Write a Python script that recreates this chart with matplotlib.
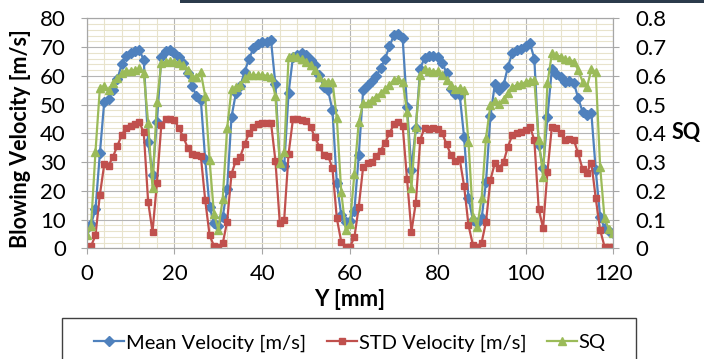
import matplotlib.pyplot as plt
from matplotlib.patches import Rectangle
from matplotlib.ticker import MultipleLocator

plt.rcParams['font.family'] = ['Lato', 'DejaVu Sans']

# position across the slot [mm], one reading per mm
y_mm = list(range(0, 121))

mean_vel = [7, 8.5, 13.5, 33, 51, 52, 55, 59, 64, 67,
            68, 68.5, 69, 65.5, 37, 25.5, 44, 66.5, 68.5, 69,
            68, 66.6, 64.5, 61, 56.5, 53, 51.7, 31, 14.5, 8.8,
            7.8, 11, 20.7, 45.7, 54, 56.5, 61.4, 66, 69.5, 71,
            71.6, 71.9, 72.3, 57, 29.5, 28.5, 54, 66.5, 67.2, 67.8,
            67.2, 65.5, 63.8, 60.3, 56.2, 55, 48, 22.6, 11.6, 9.3,
            9.5, 13, 32.5, 55, 56.8, 58.3, 60, 62.6, 66, 70.2,
            74.2, 74.5, 73, 49.2, 27.4, 42, 62.5, 66.3, 67, 67,
            66.5, 64.5, 61, 55.5, 53.7, 53.3, 38.7, 17.4, 10, 8.7,
            10.4, 23.2, 46, 57, 55, 56.8, 63.2, 68, 69, 69.3,
            70.2, 71.3, 66, 36, 27.8, 45.8, 62.3, 60.8, 59.5, 58,
            58.3, 57.6, 52.2, 47.5, 46.5, 47, 27.2, 11, 7, 6, 5.3]

std_vel = [0.3, 0.8, 4.5, 18.6, 29.2, 28.8, 31.9, 35.7, 39.4, 42,
           42.6, 43.1, 43.8, 40.3, 16.2, 5.7, 22.7, 42.8, 45.1, 44.9,
           44.5, 41.7, 38.8, 35, 32.8, 32.5, 32.2, 16.8, 4.6, 0.8,
           0.3, 1.7, 9.3, 25.9, 30.5, 31.9, 36.3, 40, 42.1, 43.1,
           43.7, 43.7, 43.7, 30.5, 8.9, 9.9, 32.8, 44.9, 44.9, 44.6,
           44.4, 42.3, 38.6, 35.4, 32.5, 32.2, 27.8, 10.4, 2.3, 0.6,
           0.6, 3.8, 14.5, 28.4, 29.6, 30.1, 32.2, 34, 36.8, 40,
           43.1, 44.1, 42.6, 24, 5.8, 15.9, 37.7, 42, 41.4, 41.7,
           41.4, 40, 36.2, 32.5, 30.4, 31, 21.7, 8, 1.2, 0.6,
           2, 9.3, 23.8, 29.6, 27.8, 30.1, 35.4, 39.4, 40, 40.6,
           41.2, 42.3, 37.7, 13.7, 7, 26.7, 42.3, 41.7, 40, 37.7,
           37.9, 37.7, 33, 27.5, 26.3, 29.8, 17.4, 6.4, 0.6, 0.3, 0.3]

sq = [.046, .079, .336, .557, .565, .55, .576, .591, .609, .617,
      .618, .62, .626, .609, .437, .209, .51, .643, .649, .652,
      .649, .646, .638, .62, .597, .597, .612, .53, .306, .12,
      .065, .173, .417, .554, .56, .568, .591, .603, .603, .603,
      .603, .60, .596, .53, .296, .335, .665, .67, .665, .657,
      .649, .638, .62, .597, .58, .58, .58, .452, .197, .065,
      .086, .26, .44, .504, .505, .516, .528, .539, .553, .568,
      .586, .588, .58, .475, .209, .423, .603, .623, .618, .614,
      .616, .603, .586, .568, .553, .558, .55, .37, .11, .075,
      .175, .385, .498, .512, .503, .52, .54, .56, .568, .573,
      .577, .582, .586, .377, .249, .574, .678, .672, .667, .657,
      .655, .649, .62, .58, .56, .623, .614, .284, .104, .066, .052]

sq_ticks = [0, 0.1, 0.2, 0.3, 0.4, 0.5, 0.6, 0.7, 0.8]
sq_labels = ['0', '0.1', '0.2', '0.3', '0.4', '0.5', '0.6', '0.7', '0.8']

blue = '#4f81bd'
red = '#c0504d'
green = '#9bbb59'
grid_major = '#b5b5b5'
grid_minor = '#e8e3cc'

fig = plt.figure(figsize=(7.04, 3.59), dpi=100)
ax = fig.add_axes([86.7 / 704, 1 - 248.3 / 359, (613.3 - 86.7) / 704, 230 / 359])
ax2 = ax.twinx()

l1, = ax.plot(y_mm, mean_vel, color=blue, lw=1.6, marker='D', ms=5, label='Mean Velocity [m/s]')
l2, = ax.plot(y_mm, std_vel, color=red, lw=1.6, marker='s', ms=5, label='STD Velocity [m/s]')
l3, = ax2.plot(y_mm, sq, color=green, lw=1.6, marker='^', ms=6, label='SQ')

ax.set_xlim(0, 120)
ax.set_ylim(0, 80)
ax2.set_ylim(0, 0.8)
ax.xaxis.set_major_locator(MultipleLocator(20))
ax.xaxis.set_minor_locator(MultipleLocator(4))
ax.yaxis.set_major_locator(MultipleLocator(10))
ax.yaxis.set_minor_locator(MultipleLocator(2))
ax2.set_yticks(sq_ticks)
ax2.set_yticklabels(sq_labels)

ax.grid(which='minor', color=grid_minor, lw=0.8)
ax.grid(which='major', color=grid_major, lw=0.8)
ax.set_axisbelow(True)

for a in (ax, ax2):
    for s in a.spines.values():
        s.set_color('#a6a6a6')
        s.set_linewidth(0.8)
ax.tick_params(which='major', direction='out', length=4, color='#a6a6a6', labelsize=16, pad=11)
ax.tick_params(axis='x', pad=7)
ax.tick_params(which='minor', length=0)
ax2.tick_params(direction='out', length=4, color='#a6a6a6', labelsize=16, pad=12)

fig.text(21 / 704, 1 - 139 / 359, 'Blowing Velocity [m/s]', rotation=90, ha='center', va='center',
         fontsize=15.5, fontweight='bold')
fig.text(350 / 704, 1 - 300 / 359, 'Y [mm]', ha='center', va='center', fontsize=16, fontweight='bold')
fig.text(686 / 704, 1 - 133 / 359, 'SQ', ha='center', va='center', fontsize=15.5, fontweight='bold')

# legend box runs off the bottom of the image
fig.add_artist(Rectangle((62 / 704, -0.1), (636 - 62) / 704, 0.1 + 1 - 318 / 359,
                         transform=fig.transFigure, fill=False, edgecolor='#404040', lw=1))
fig.legend(handles=[l1, l2, l3], loc='center', bbox_to_anchor=(350 / 704, 1 - 343 / 359), ncol=3,
           frameon=False, fontsize=14.5, handlelength=1.5, handletextpad=0.1, columnspacing=1.0)

# dark band at top of slide
fig.add_artist(Rectangle((180 / 704, 1 - 3 / 359), 1, 3 / 359, transform=fig.transFigure,
                         color='#2b3b4b', lw=0))

fig.savefig('out.png', dpi=100)
